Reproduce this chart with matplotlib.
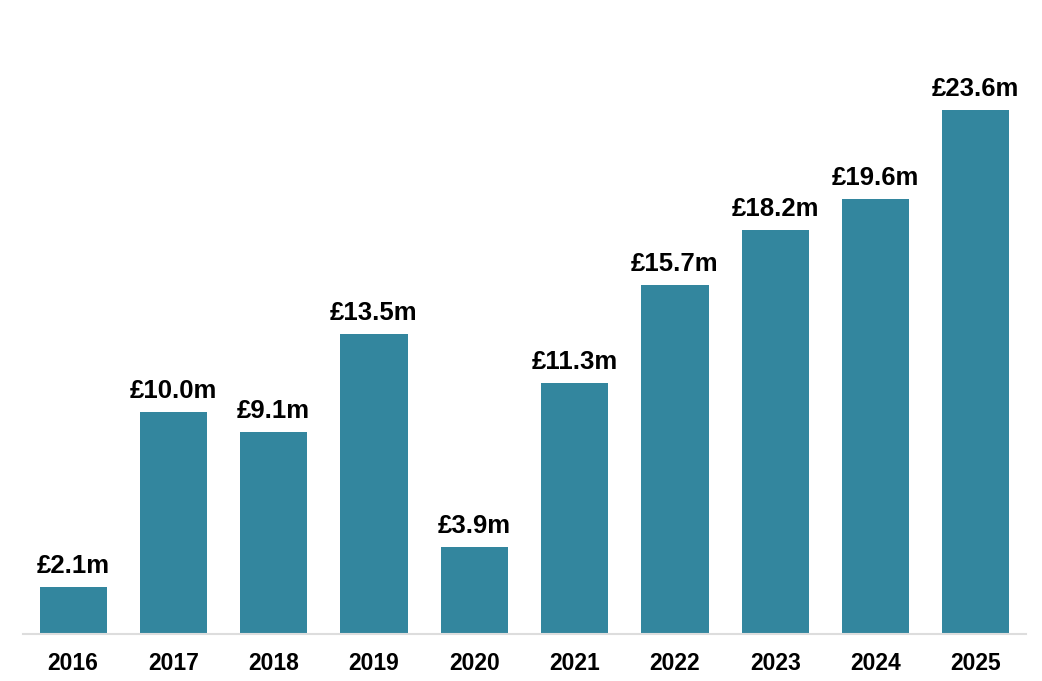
import matplotlib.pyplot as plt

plt.rcParams['font.family'] = ['Liberation Sans', 'DejaVu Sans']

years = ['2016', '2017', '2018', '2019', '2020', '2021', '2022', '2023', '2024', '2025']
values = [2.1, 10.0, 9.1, 13.5, 3.9, 11.3, 15.7, 18.2, 19.6, 23.6]
labels = ['£2.1m', '£10.0m', '£9.1m', '£13.5m', '£3.9m', '£11.3m', '£15.7m', '£18.2m', '£19.6m', '£23.6m']

fig = plt.figure(figsize=(10.42, 6.81), dpi=100)
ax = fig.add_axes([23 / 1042, 47 / 681, 1003 / 1042, 594 / 681])

x = range(len(years))
bars = ax.bar(x, values, width=0.67, color='#33869E')
for bar, lab in zip(bars, labels):
    ax.annotate(lab, (bar.get_x() + bar.get_width() / 2, bar.get_height()),
                xytext=(0, 6.5), textcoords='offset points',
                ha='center', va='bottom', fontsize=18.5, fontweight='bold')

ax.set_xlim(-0.5, len(years) - 0.5)
ax.set_ylim(0, 26.75)
ax.set_xticks(list(x))
ax.set_xticklabels(years, fontsize=16.5, fontweight='bold')
ax.tick_params(axis='x', length=0, pad=13)
ax.set_yticks([])
for side in ['top', 'right', 'left']:
    ax.spines[side].set_visible(False)
ax.spines['bottom'].set_color('#dddddd')
ax.spines['bottom'].set_linewidth(1.5)

fig.savefig('out.png', dpi=100)
